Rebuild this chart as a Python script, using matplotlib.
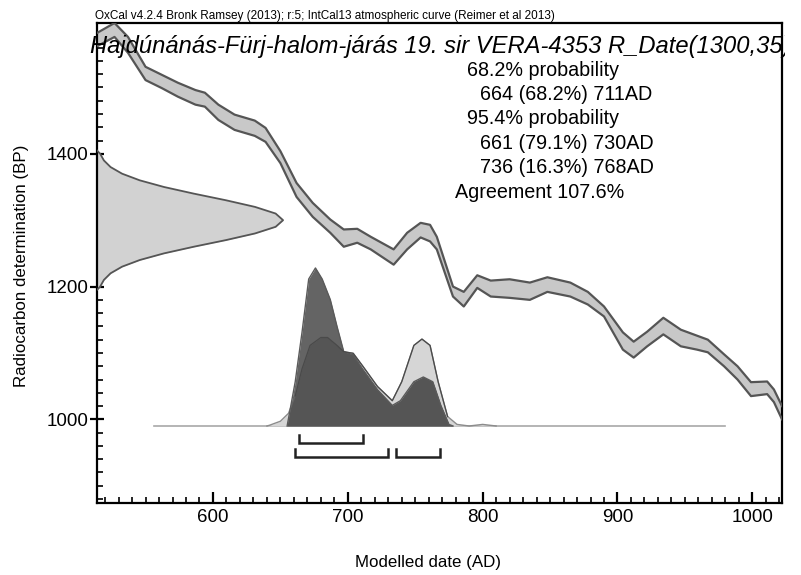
import matplotlib
matplotlib.use("Agg")
import matplotlib.pyplot as plt
import numpy as np
from matplotlib.patches import Rectangle
from matplotlib.ticker import MultipleLocator

plt.rcParams["font.family"] = ["Liberation Sans", "DejaVu Sans"]

# IntCal13 band (upper / lower edge, BP)
cal_years = [514, 527, 537, 550, 562, 574, 587, 594, 604, 616, 631, 639, 650, 662,
             674, 687, 697, 707, 717, 734, 744, 754, 761, 766, 778, 786, 796, 806,
             820, 835, 848, 865, 878, 890, 904, 912, 922, 934, 947, 959, 967, 979,
             989, 999, 1011, 1016, 1022]
cal_upper = [1582, 1597, 1576, 1531, 1519, 1507, 1496, 1492, 1474, 1459, 1450, 1439,
             1404, 1356, 1326, 1301, 1286, 1287, 1275, 1256, 1281, 1296, 1293, 1275,
             1200, 1192, 1217, 1209, 1211, 1206, 1214, 1206, 1192, 1170, 1131, 1117,
             1132, 1153, 1135, 1126, 1120, 1098, 1080, 1056, 1057, 1045, 1020]
cal_lower = [1562, 1576, 1552, 1511, 1499, 1486, 1474, 1471, 1451, 1436, 1427, 1418,
             1386, 1335, 1305, 1281, 1260, 1266, 1256, 1233, 1256, 1274, 1268, 1256,
             1185, 1170, 1198, 1185, 1183, 1180, 1192, 1185, 1173, 1155, 1105, 1093,
             1110, 1128, 1110, 1105, 1101, 1080, 1060, 1035, 1038, 1026, 1000]

# R_Date(1300,35) on the y axis (relative height)
rdate_bp = [1405, 1400, 1390, 1380, 1370, 1360, 1350, 1340, 1330, 1320, 1310, 1300,
            1290, 1280, 1270, 1260, 1250, 1240, 1230, 1220, 1210, 1200, 1195]
rdate_rel = [0.0, 0.017, 0.037, 0.073, 0.135, 0.23, 0.36, 0.52, 0.693, 0.849, 0.96,
             1.0, 0.96, 0.849, 0.693, 0.52, 0.36, 0.23, 0.135, 0.073, 0.037, 0.017, 0.0]

# unmodelled likelihood (light) and posterior (dark), relative heights
lik_years = [556, 640, 642, 650, 656, 661, 666, 672, 680, 685, 692, 697, 704, 711,
             722, 733, 740, 749, 755, 761, 767, 774, 781, 790, 800, 810, 980]
lik_rel = [0, 0, 0.005, 0.03, 0.08, 0.19, 0.36, 0.51, 0.56, 0.56, 0.51, 0.47, 0.46,
           0.38, 0.25, 0.16, 0.28, 0.51, 0.55, 0.51, 0.28, 0.06, 0.01, 0.0, 0.01, 0, 0]
post_years = [556, 655, 661, 666, 671, 676, 681, 687, 692, 697, 704, 711, 722, 733,
              739, 749, 756, 763, 769, 775, 778, 980]
post_rel = [0, 0, 0.28, 0.59, 0.93, 1.0, 0.93, 0.80, 0.63, 0.47, 0.45, 0.36, 0.23,
            0.13, 0.16, 0.28, 0.31, 0.28, 0.13, 0.01, 0, 0]

range68 = [(664, 711)]
range95 = [(661, 730), (736, 768)]

title = "Hajdúnánás-Fürj-halom-járás 19. sir VERA-4353 R_Date(1300,35)"
header = "OxCal v4.2.4 Bronk Ramsey (2013); r:5; IntCal13 atmospheric curve (Reimer et al 2013)"
info_lines = ["68.2% probability", "664 (68.2%) 711AD", "95.4% probability",
              "661 (79.1%) 730AD", "736 (16.3%) 768AD", "Agreement 107.6%"]
info_indent = [467, 480, 467, 480, 480, 455]

W, H = 801, 575
fig = plt.figure(figsize=(W / 100, H / 100), dpi=100)
ax = fig.add_axes([97 / W, 1 - 503 / H, (782 - 97) / W, (503 - 23) / H])

x0, x1 = 514, 1022
ax.set_xlim(x0, x1)
ax.set_ylim(874, 1597)

# calibration curve
ax.fill_between(cal_years, cal_lower, cal_upper, color="#c8c8c8", lw=0, zorder=2)
for edge in (cal_upper, cal_lower):
    ax.plot(cal_years, edge, color="#555555", lw=1.6, solid_joinstyle="round", zorder=3)

# radiocarbon date
rd_x = x0 + 138 * np.array(rdate_rel)
ax.fill_betweenx(rdate_bp, x0, rd_x, color="#d2d2d2", lw=0, zorder=2)
ax.plot(rd_x, rdate_bp, color="#555555", lw=1.3, zorder=3)

# calendar distributions
base, scale = 990, 238
lik_y = base + scale * np.array(lik_rel)
post_y = base + scale * np.array(post_rel)
ax.plot([lik_years[0], lik_years[-1]], [base, base], color="#a8a8a8", lw=1.2, zorder=4)
ax.fill_between(lik_years, base, lik_y, color="#d6d6d6", lw=0, zorder=4)
ax.plot(lik_years[1:-1], lik_y[1:-1], color="#8c8c8c", lw=1.0, zorder=4)
ax.fill_between(post_years, base, post_y, color="#646464", lw=0, zorder=5)
# overlap of both distributions is drawn a shade darker
grid = np.linspace(lik_years[0], lik_years[-1], 1200)
overlap = np.minimum(np.interp(grid, lik_years, lik_y), np.interp(grid, post_years, post_y))
ax.fill_between(grid, base, overlap, color="#555555", lw=0, zorder=5)
ax.plot(post_years[1:-1], post_y[1:-1], color="#5a5a5a", lw=1.0, zorder=6)
ax.plot(lik_years[5:-5], lik_y[5:-5], color="#4a4a4a", lw=0.9, zorder=6)

# range brackets
for rng, yb in ((range68, 965), (range95, 944)):
    for a, b in rng:
        ax.plot([a, a, b, b], [yb + 11, yb, yb, yb + 11], color="#222222", lw=1.8,
                solid_joinstyle="miter", zorder=7)

# axes style
for sp in ax.spines.values():
    sp.set_linewidth(1.6)
ax.xaxis.set_major_locator(MultipleLocator(100))
ax.xaxis.set_minor_locator(MultipleLocator(10))
ax.yaxis.set_major_locator(MultipleLocator(200))
ax.yaxis.set_minor_locator(MultipleLocator(20))
ax.tick_params(axis="x", which="major", direction="in", length=8, width=1.6,
               labelsize=13.5, pad=4, top=False)
ax.tick_params(axis="x", which="minor", direction="in", length=4.5, width=1.2, top=False)
ax.tick_params(axis="y", which="major", direction="inout", length=10, width=1.6,
               labelsize=13.5, pad=1, right=False)
ax.tick_params(axis="y", which="minor", direction="in", length=4, width=1.2, right=False)

fig.text(428 / W, 1 - 562 / H, "Modelled date (AD)", fontsize=12.2,
         ha="center", va="center")
fig.text(22 / W, 1 - 266 / H, "Radiocarbon determination (BP)", fontsize=12.2,
         rotation=90, ha="center", va="center")
fig.text(95 / W, 1 - 16 / H, header, fontsize=8.5, ha="left", va="center")

t = fig.text(90 / W, 1 - 47 / H, title, fontsize=17.1, style="italic",
             ha="left", va="center", zorder=10)
t.set_clip_path(Rectangle((0, 0), 785 / W, 1, transform=fig.transFigure))

for i, (line, xl) in enumerate(zip(info_lines, info_indent)):
    fig.text(xl / W, 1 - (70 + 24.4 * i) / H, line, fontsize=14.2,
             ha="left", va="center", zorder=10)

fig.savefig("out.png", dpi=100)
